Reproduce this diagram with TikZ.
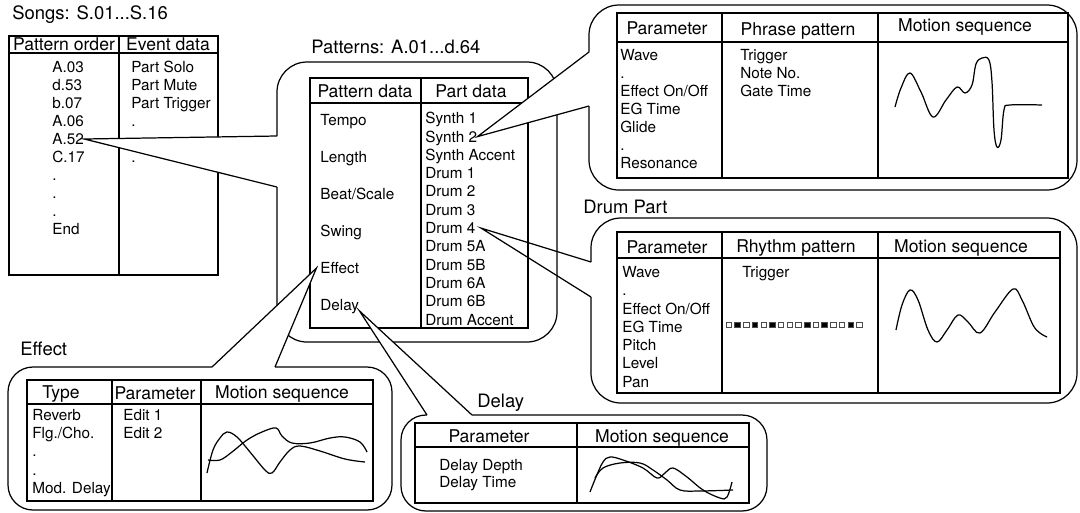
\documentclass[tikz,border=0pt]{standalone}
\usepackage{fontspec}
\setmainfont{TeX Gyre Heros}
\tikzset{
  bub/.style={line width=0.7pt, fill=white},
  tbl/.style={line width=0.7pt},
  hdr/.style={font=\fontsize{10}{12}\selectfont, inner sep=0pt, text height=7.2pt, text depth=0pt},
  txt/.style={font=\fontsize{8.7}{10}\selectfont, anchor=west, inner sep=0pt, text height=6.2pt, text depth=0pt},
  ttl/.style={font=\fontsize{10.5}{12}\selectfont, anchor=west, inner sep=0pt, text height=7.5pt, text depth=0pt},
  wave/.style={line width=0.7pt, smooth, tension=0.6},
}
\begin{document}
\begin{tikzpicture}[x=0.02cm,y=-0.02cm]
\useasboundingbox (0,0) rectangle (1080,512);

% songs
\node[ttl] (songs) at (12,13) {Songs: S.01...S.16};
\draw[tbl] (9,36) rectangle (218,275);
\draw[tbl] (9,53) -- (218,53) (119,36) -- (119,275);
\node[hdr] (po) at (64,44) {Pattern order};
\node[hdr] (ed) at (168,44) {Event data};
\foreach \t [count=\i] in {A.03,d.53,b.07,A.06,A.52,C.17,{.},{.},{.},End}
  \node[txt] (so\i) at (52,{67+18*(\i-1)}) {\t};
\foreach \t/\y [count=\i] in {Part Solo/67,Part Mute/85,Part Trigger/103,{.}/121,{.}/157}
  \node[txt] (ev\i) at (131,\y) {\t};

% patterns
\coordinate (pa1) at (277,136);
\coordinate (pa2) at (277,187);
\draw[bub,rounded corners=0.6cm] (pa2) -- (277,342) -- (557,342) -- (557,62) -- (277,62) -- (pa1);
\fill[white] (pa1) -- (so5.east) -- (pa2) -- cycle;
\draw[tbl] (pa1) -- (so5.east) -- (pa2);
\node[ttl] (pat) at (311,47) {Patterns: A.01...d.64};
\draw[tbl] (310,78) rectangle (528,328);
\draw[tbl] (310,103) -- (528,103) (421,78) -- (421,328);
\node[hdr] (pdh) at (365,91) {Pattern data};
\node[hdr] (prh) at (471,91) {Part data};
\foreach \t [count=\i] in {Tempo,Length,{Beat/Scale},Swing,Effect,Delay}
  \node[txt] (pd\i) at (320,{120+37*(\i-1)}) {\t};
\foreach \t [count=\i] in {Synth 1,Synth 2,Synth Accent,Drum 1,Drum 2,Drum 3,Drum 4,Drum 5A,Drum 5B,Drum 6A,Drum 6B,Drum Accent}
  \node[txt] (pt\i) at (425,{118.3+18.3*(\i-1)}) {\t};

% synth part
\coordinate (sa1) at (589,52);
\coordinate (sa2) at (589,106);
\draw[bub,rounded corners=0.6cm] (sa2) -- (589,190) -- (1077,190) -- (1077,5) -- (589,5) -- (sa1);
\fill[white] (sa1) -- (pt2.east) -- (sa2) -- cycle;
\draw[tbl] (sa1) -- (pt2.east) -- (sa2);
\draw[tbl] (617,13) rectangle (1068,178);
\draw[tbl] (617,42) -- (1068,42) (722,13) -- (722,178) (878,13) -- (878,178);
\node[hdr] (sp1) at (667,28) {Parameter};
\node[hdr] (sp2) at (798,29) {Phrase pattern};
\node[hdr] (sp3) at (965,25) {Motion sequence};
\foreach \t [count=\i] in {Wave,{.},{Effect On/Off},EG Time,Glide,{.},Resonance}
  \node[txt] (sv\i) at (620,{55+18*(\i-1)}) {\t};
\foreach \t [count=\i] in {Trigger,Note No.,Gate Time}
  \node[txt] (sf\i) at (740,{55+18*(\i-1)}) {\t};
\draw[wave] plot coordinates {(895,107) (901,88) (910,73) (921,92) (933,117) (946,100) (957,87) (965,93) (972,85) (976,64) (982,58) (989,60) (992,82) (994,130) (997,147) (1001,140) (1004,110) (1010,105) (1042,105)};

% drum part
\node[ttl] (drum) at (583,207) {Drum Part};
\coordinate (da1) at (591,262);
\coordinate (da2) at (591,297);
\draw[bub,rounded corners=0.6cm] (da2) -- (591,403) -- (1077,403) -- (1077,218) -- (591,218) -- (da1);
\draw[tbl] (da1) -- ([xshift=3pt]pt7.east) -- (da2);
\draw[tbl] (617,232) rectangle (1060,393);
\draw[tbl] (617,258) -- (1060,258) (722,232) -- (722,393) (878,232) -- (878,393);
\node[hdr] (dp1) at (667,247) {Parameter};
\node[hdr] (dp2) at (796,246) {Rhythm pattern};
\node[hdr] (dp3) at (961,246) {Motion sequence};
\foreach \t [count=\i] in {Wave,{.},{Effect On/Off},EG Time,Pitch,Level,Pan}
  \node[txt] (dv\i) at (622,{272+18.3*(\i-1)}) {\t};
\node[txt] (dtr) at (742,272) {Trigger};
\foreach \b [count=\i] in {white,black,white,black,white,black,white,white,white,black,white,black,white,white,black,white}
  \draw[line width=0.3pt,draw=black!70,fill=\b] ({726+8.7*(\i-1)},322) rectangle +(5.5,5.5);
\draw[wave] plot coordinates {(896,330) (902,305) (910,290) (918,300) (928,330) (937,342) (947,330) (958,315) (968,322) (980,333) (995,312) (1013,289) (1022,300) (1033,325) (1040,333) (1047,337)};

% effect
\node[ttl] (eff) at (20,349) {Effect};
\coordinate (ea1) at (212,367);
\coordinate (ea2) at (275,367);
\draw[bub,rounded corners=0.5cm] (ea2) -- (392,367) -- (392,510) -- (8,510) -- (8,367) -- (ea1);
\fill[white] (ea1) -- ([xshift=-2pt]pd5.west) -- (ea2) -- cycle;
\draw[tbl] (ea1) -- ([xshift=-2pt]pd5.west) -- (ea2);
\draw[tbl] (27,380) rectangle (373,501);
\draw[tbl] (27,404) -- (373,404) (112,380) -- (112,501) (201,380) -- (201,501);
\node[hdr] (ep1) at (61,392) {Type};
\node[hdr] (ep2) at (155,393) {Parameter};
\node[hdr] (ep3) at (282,392) {Motion sequence};
\foreach \t [count=\i] in {Reverb,{Flg./Cho.},{.},{.},Mod. Delay}
  \node[txt] (et\i) at (32,{415+18.25*(\i-1)}) {\t};
\foreach \t [count=\i] in {Edit 1,Edit 2}
  \node[txt] (ee\i) at (123,{415+18*(\i-1)}) {\t};
\draw[wave] plot coordinates {(207,473) (213,450) (220,438) (227,432) (237,437) (250,452) (265,470) (272,473) (280,462) (290,450) (300,446) (320,451) (345,459) (365,462)};
\draw[wave] plot coordinates {(208,460) (220,460) (232,452) (247,440) (262,432) (276,428) (282,436) (292,443) (310,443) (330,438) (345,437) (360,442) (367,452)};

% delay
\node[ttl] (dly) at (477,401) {Delay};
\coordinate (la1) at (427,415);
\coordinate (la2) at (472,415);
\draw[bub,rounded corners=0.5cm] (la2) -- (767,415) -- (767,511) -- (401,511) -- (401,415) -- (la1);
\fill[white] (la1) -- (pd6.south east) -- (la2) -- cycle;
\draw[tbl] (la1) -- (pd6.south east) -- (la2);
\draw[tbl] (415,423) rectangle (749,503);
\draw[tbl] (415,447) -- (749,447) (577,423) -- (577,503);
\node[hdr] (lp1) at (489,436) {Parameter};
\node[hdr] (lp2) at (662,436) {Motion sequence};
\foreach \t [count=\i] in {Delay Depth,Delay Time}
  \node[txt] (lt\i) at (439,{465+17*(\i-1)}) {\t};
\draw[wave] plot coordinates {(590,492) (596,477) (603,462) (610,457) (623,460) (643,468) (657,478) (665,473) (673,468) (687,477) (703,490) (720,498) (727,497) (732,482)};
\draw[wave] plot coordinates {(595,478) (603,468) (620,463) (640,463) (653,470) (667,480) (680,490) (700,491) (733,490)};
\end{tikzpicture}
\end{document}
